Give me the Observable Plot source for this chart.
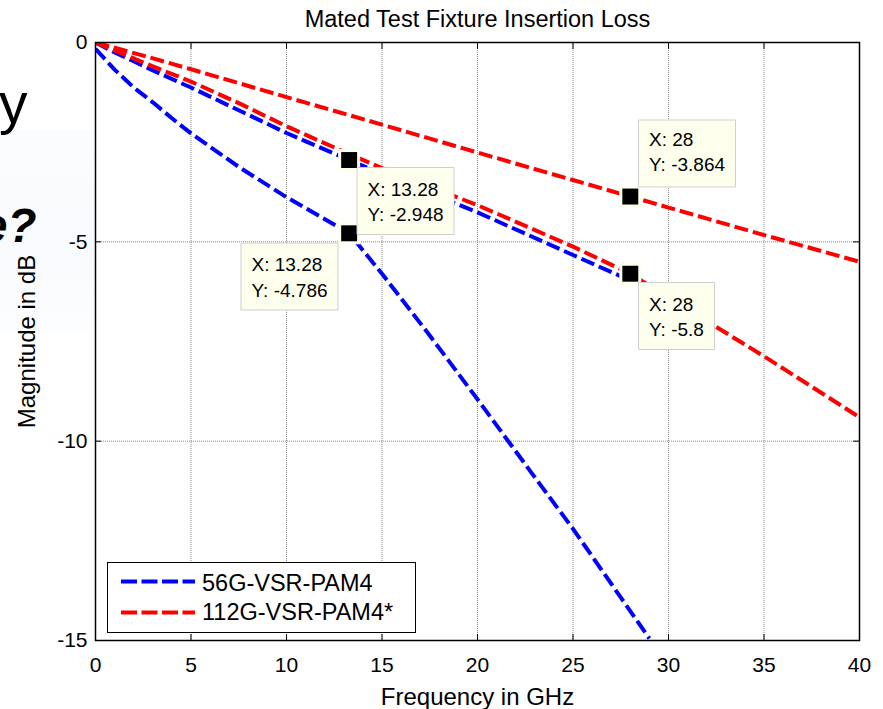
<!DOCTYPE html>
<html>
<head>
<meta charset="utf-8">
<script src="https://cdn.jsdelivr.net/npm/d3@7"></script>
<script src="https://cdn.jsdelivr.net/npm/@observablehq/plot@0.6"></script>
<style>
  html, body { margin: 0; padding: 0; background: #fff; }
  #wrap { position: relative; width: 883px; height: 709px; overflow: hidden; font-family: "Liberation Sans", Arial, sans-serif; }
  .slide { position: absolute; line-height: 1; color: #000; white-space: nowrap; }
  #tint { position: absolute; left: 0; top: 130px; width: 95px; height: 200px; background: linear-gradient(#fafcfe, #f8fafd 60%, #fcfdfe); }
  #chart { position: absolute; left: 0; top: 0; }
  #legend { position: absolute; left: 107px; top: 562px; }
</style>
</head>
<body>
<div id="wrap">
  <div id="tint"></div>
  <div class="slide" style="left:-1px; top:75px; font-size:57px;">y</div>
  <div class="slide" style="left:-19px; top:202px; font-size:47.5px; font-weight:bold; font-style:italic;">e?</div>
  <div id="chart"></div>
  <div id="legend"></div>
</div>
<script>
// ---------- data ----------
const chartTitle = "Mated Test Fixture Insertion Loss";
const xLabel = "Frequency in GHz";
const yLabel = "Magnitude in dB";
const xTicks = [0, 5, 10, 15, 20, 25, 30, 35, 40];
const yTicks = [0, -5, -10, -15];

const seriesNames = ["56G-VSR-PAM4", "112G-VSR-PAM4*"];

// 56G-VSR-PAM4, steep trace
const freq56a = [0, 1, 2, 3, 4, 5, 7.5, 10, 13.28, 15, 17.5, 20, 22.5, 25, 27.5, 29];
const mag56a  = [-0.16, -0.68, -1.13, -1.5, -1.9, -2.28, -3.12, -3.88, -4.786, -5.8, -7.35, -8.95, -10.58, -12.2, -13.92, -14.95];
// 56G-VSR-PAM4, shallow trace
const freq56b = [0, 1, 2, 3, 5, 7.5, 10, 13.28, 15, 20, 25, 28];
const mag56b  = [0, -0.25, -0.47, -0.7, -1.13, -1.7, -2.27, -2.948, -3.3, -4.26, -5.33, -5.97];
// 112G-VSR-PAM4*, lower trace
const freq112a = [0, 1, 2, 3, 5, 7.5, 10, 13.28, 15, 20, 25, 28, 30, 35, 40];
const mag112a  = [0, -0.2, -0.4, -0.6, -0.98, -1.52, -2.1, -2.8, -3.15, -4.08, -5.12, -5.8, -6.4, -7.87, -9.4];
// 112G-VSR-PAM4*, upper trace
const freq112b = [0, 2.5, 5, 10, 15, 20, 25, 28, 30, 35, 40];
const mag112b  = [0, -0.33, -0.67, -1.37, -2.06, -2.76, -3.45, -3.864, -4.14, -4.83, -5.5];

// data tips (X, Y)
const tipFreq = [13.28, 13.28, 28, 28];
const tipMag  = [-2.948, -4.786, -3.864, -5.8];

// ---------- styling / layout (not data) ----------
const seriesColors = ["#0000ff", "#ff0000"];
const tipPlacement = [
  {anchor: "top-left", dx: 7.5, dy: 7},
  {anchor: "top-right", dx: -11.5, dy: 9.5},
  {anchor: "bottom-left", dx: 8, dy: -9.5},
  {anchor: "top-left", dx: 8, dy: 9}
];
const FONT = "Liberation Sans, Arial, sans-serif";
const CREAM = "#ffffee";
const dash = "14,5";

const toPts = (xs, ys) => xs.map((x, i) => ({x, y: ys[i]}));
const traces = [
  {pts: toPts(freq56a, mag56a), color: seriesColors[0]},
  {pts: toPts(freq56b, mag56b), color: seriesColors[0]},
  {pts: toPts(freq112a, mag112a), color: seriesColors[1]},
  {pts: toPts(freq112b, mag112b), color: seriesColors[1]}
];
const tips = tipFreq.map((x, i) => ({x, y: tipMag[i]}));
const fmt = d => String(d);
const tickShape = {draw(context, l) { context.moveTo(0, 0); context.lineTo(0, -l); }};

const marks = [
  Plot.gridX(xTicks, {stroke: "#8a8a8a", strokeOpacity: 1, strokeDasharray: "1,1"}),
  Plot.gridY(yTicks, {stroke: "#8a8a8a", strokeOpacity: 1, strokeDasharray: "1,1"}),
  ...traces.map(t => Plot.line(t.pts, {x: "x", y: "y", stroke: t.color, strokeWidth: 4, strokeDasharray: dash, strokeLinecap: "butt", clip: true})),
  Plot.axisX({anchor: "bottom", ticks: xTicks, tickSize: -6, tickPadding: 23, tickFormat: fmt, fontSize: 21, label: null}),
  Plot.axisY({anchor: "left", ticks: yTicks, tickSize: -6, tickPadding: 14, tickFormat: fmt, fontSize: 21, label: null}),
  // inward ticks on the top and right edges
  Plot.vector(xTicks, {x: d => d, frameAnchor: "top", length: 6, rotate: 180, anchor: "start", shape: tickShape, stroke: "black", strokeWidth: 1}),
  Plot.vector(yTicks, {y: d => d, frameAnchor: "right", length: 6, rotate: -90, anchor: "start", shape: tickShape, stroke: "black", strokeWidth: 1}),
  Plot.frame({stroke: "black", strokeWidth: 1.5}),
  Plot.text([chartTitle], {text: d => d, frameAnchor: "top", dy: -16, lineAnchor: "bottom", textAnchor: "middle", fontSize: 23.5}),
  Plot.text([xLabel], {text: d => d, frameAnchor: "bottom", dy: 64, lineAnchor: "bottom", textAnchor: "middle", fontSize: 24}),
  Plot.text([yLabel], {text: d => d, frameAnchor: "left", dx: -68, rotate: -90, lineAnchor: "middle", textAnchor: "middle", fontSize: 24}),
  Plot.dot(tips, {x: "x", y: "y", symbol: "square", r: 12.4, fill: CREAM}),
  Plot.dot(tips, {x: "x", y: "y", symbol: "square", r: 9, fill: "black"}),
  ...tips.map((t, i) => Plot.tip([t], {
    x: "x", y: "y",
    title: d => `X: ${d.x}\nY: ${d.y}`,
    anchor: tipPlacement[i].anchor, dx: tipPlacement[i].dx, dy: tipPlacement[i].dy,
    pointerSize: 0, textPadding: 10.5, fontSize: 19, lineHeight: 1.33,
    fill: CREAM, stroke: "#cfcfcf", pathFilter: "none"
  }))
];

const chart = Plot.plot({
  width: 883, height: 709,
  marginTop: 42, marginBottom: 69, marginLeft: 95, marginRight: 24,
  x: {domain: [0, 40]},
  y: {domain: [-15, 0]},
  style: {background: "transparent", fontFamily: FONT, color: "black", overflow: "visible"},
  marks
});
document.getElementById("chart").appendChild(chart);

// ---------- legend ----------
const lw = 309, lh = 71;
const leg = d3.select("#legend").append("svg").attr("width", lw).attr("height", lh).style("font-family", FONT);
leg.append("rect").attr("x", 0.5).attr("y", 0.5).attr("width", lw - 1).attr("height", lh - 1).attr("fill", "white").attr("stroke", "black").attr("stroke-width", 1);
seriesNames.forEach((name, i) => {
  const yy = 19.5 + i * 31;
  leg.append("line").attr("x1", 14).attr("x2", 88).attr("y1", yy).attr("y2", yy)
    .attr("stroke", seriesColors[i]).attr("stroke-width", 4).attr("stroke-dasharray", "16,4.5");
  leg.append("text").attr("x", 95).attr("y", 29 + i * 29).attr("font-size", 23.5).attr("fill", "black").text(name);
});
</script>
</body>
</html>
